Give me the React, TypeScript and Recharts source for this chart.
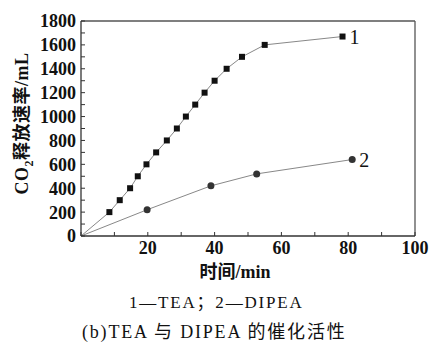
import React from 'react';
import { LineChart, Line, XAxis, YAxis, ReferenceLine, Label } from 'recharts';

// time (min) and CO2 release (mL)
const teaTime = [0, 8.5, 11.6, 14.7, 17.0, 19.6, 22.5, 25.7, 28.7, 31.4, 34.2, 37.0, 40.0, 43.6, 48.2, 55.0, 78.3];
const teaCO2 = [0, 200, 300, 400, 500, 600, 700, 800, 900, 1000, 1100, 1200, 1300, 1400, 1500, 1600, 1670];

const dipeaTime = [0, 19.8, 38.9, 52.6, 81.2];
const dipeaCO2 = [0, 220, 420, 520, 640];

const xTicks = [0, 10, 20, 30, 40, 50, 60, 70, 80, 90, 100];
const yTicks = [0, 100, 200, 300, 400, 500, 600, 700, 800, 900, 1000, 1100, 1200, 1300, 1400, 1500, 1600, 1700, 1800];

const teaData = teaTime.map((t, i) => ({ t, v: teaCO2[i] }));
const dipeaData = dipeaTime.map((t, i) => ({ t, v: dipeaCO2[i] }));

const SERIF = "'Liberation Serif', 'Noto Sans CJK SC', serif";
const tickStyle = { fontSize: 18, fontWeight: 700, fill: '#111', fontFamily: SERIF };

const SquareDot = (props: any) => {
  const { cx, cy, index } = props;
  if (index === 0) return <g key={`s-${index}`} />;
  return <rect key={`s-${index}`} x={cx - 3} y={cy - 3} width={6} height={6} fill="#111" />;
};

const CircleDot = (props: any) => {
  const { cx, cy, index } = props;
  if (index === 0) return <g key={`c-${index}`} />;
  return <circle key={`c-${index}`} cx={cx} cy={cy} r={3.5} fill="#333" />;
};

const endLabel = (text: string, last: number) => (props: any) => {
  const { x, y, index } = props;
  if (index !== last) return null;
  return (
    <text x={x + 7} y={y} dy="0.35em" fontSize={20} fontFamily={SERIF} fill="#111">{text}</text>
  );
};

const YTitle = (props: any) => {
  const { viewBox } = props;
  const cx = 22;
  const cy = viewBox.y + viewBox.height / 2 - 5;
  return (
    <text transform={`translate(${cx},${cy}) rotate(-90)`} textAnchor="middle" dy="0.35em"
      fontSize={18} fontWeight={700} fontFamily={SERIF} fill="#111" letterSpacing={0.5}>
      CO<tspan fontSize={12} dy={5}>2</tspan><tspan dy={-5}>释放速率/mL</tspan>
    </text>
  );
};

const XTitle = (props: any) => {
  const { viewBox } = props;
  const cx = viewBox.x + viewBox.width / 2 - 13;
  return (
    <text x={cx} y={272} dy="0.35em" textAnchor="middle" fontSize={18} fontWeight={700}
      fontFamily={SERIF} fill="#111">时间/min</text>
  );
};

export default function App() {
  return (
    <div style={{ position: 'absolute', left: 0, top: 0, width: 430, height: 345, background: '#fff' }}>
      <LineChart width={430} height={290} margin={{ top: 21, right: 15, left: 21, bottom: 14 }}>
        <XAxis
          type="number"
          dataKey="t"
          domain={[0, 100]}
          ticks={xTicks}
          interval={0}
          tickFormatter={(v: number) => (v > 0 && v % 20 === 0 ? String(v) : '')}
          tick={tickStyle}
          tickSize={-4}
          tickMargin={9}
          height={40}
          axisLine={{ stroke: '#333', strokeWidth: 1.3 }}
          tickLine={{ stroke: '#333' }}
          allowDataOverflow
        >
          <Label content={<XTitle />} />
        </XAxis>
        <YAxis
          type="number"
          dataKey="v"
          domain={[0, 1800]}
          ticks={yTicks}
          interval={0}
          tickFormatter={(v: number) => (v % 200 === 0 ? String(v) : '')}
          tick={tickStyle}
          tickSize={-4}
          tickMargin={9}
          width={60}
          axisLine={{ stroke: '#333', strokeWidth: 1.3 }}
          tickLine={{ stroke: '#333' }}
          allowDataOverflow
        >
          <Label content={<YTitle />} />
        </YAxis>
        <ReferenceLine y={1800} stroke="#555" strokeWidth={1.3} />
        <ReferenceLine x={100} stroke="#555" strokeWidth={1.3} />
        <Line
          data={teaData}
          dataKey="v"
          type="linear"
          stroke="#888"
          strokeWidth={1}
          dot={<SquareDot />}
          label={endLabel('1', teaData.length - 1)}
          isAnimationActive={false}
        />
        <Line
          data={dipeaData}
          dataKey="v"
          type="linear"
          stroke="#888"
          strokeWidth={1}
          dot={<CircleDot />}
          label={endLabel('2', dipeaData.length - 1)}
          isAnimationActive={false}
        />
      </LineChart>
      <div style={{ position: 'absolute', left: 129, top: 292, fontSize: 17, lineHeight: '22px', fontFamily: SERIF, color: '#111', whiteSpace: 'nowrap', letterSpacing: 1.8 }}>
        1—TEA；2—DIPEA
      </div>
      <div style={{ position: 'absolute', left: 82, top: 321, fontSize: 18, lineHeight: '22px', fontFamily: SERIF, color: '#111', whiteSpace: 'nowrap', letterSpacing: 1.8 }}>
        (b)TEA 与 DIPEA 的催化活性
      </div>
    </div>
  );
}
